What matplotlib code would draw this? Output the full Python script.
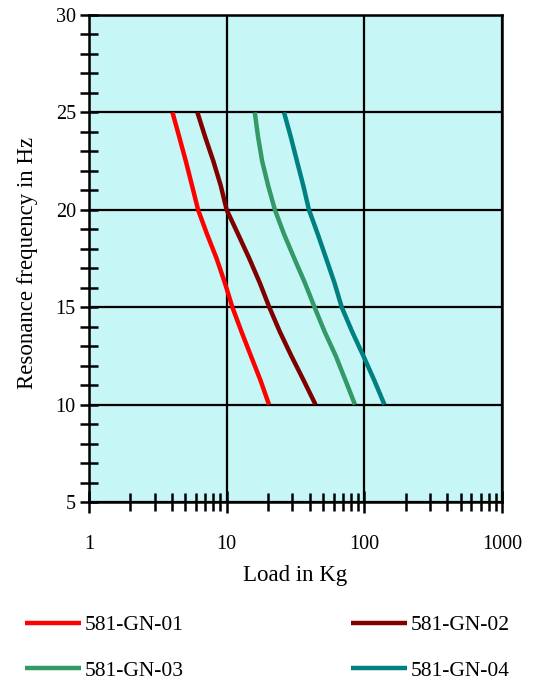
import matplotlib
matplotlib.use("Agg")
import matplotlib.pyplot as plt
from matplotlib.ticker import FixedLocator, NullFormatter

freq = [25, 23.75, 22.5, 21.25, 20, 18.75, 17.5, 16.25, 15, 13.75, 12.5, 11.25, 10]
load_01 = [4.04, 4.52, 5.05, 5.6, 6.2, 7.2, 8.45, 9.7, 11.0, 12.8, 15.0, 17.6, 20.3]
load_02 = [6.13, 6.97, 8.0, 9.05, 10.0, 12.1, 14.6, 17.4, 20.4, 24.3, 29.5, 36.2, 44.2]
load_03 = [16.0, 16.9, 18.1, 20.0, 22.4, 26.1, 31.0, 37.0, 43.5, 51.4, 62.0, 72.9, 85.5]
load_04 = [26.1, 29.2, 32.4, 36.0, 39.6, 45.9, 52.8, 60.7, 68.5, 81.5, 98.4, 118.0, 140.0]
names = ["581-GN-01", "581-GN-02", "581-GN-03", "581-GN-04"]
colors = ["#FF0000", "#800000", "#339966", "#008080"]
x_ticks = [1, 10, 100, 1000]
x_ticklabels = ["1", "10", "100", "1000"]
y_ticks = [5, 10, 15, 20, 25, 30]

plt.rcParams['font.family'] = ['Liberation Serif', 'DejaVu Serif']

fig = plt.figure(figsize=(5.36, 6.84), dpi=100)
ax = fig.add_axes([89/536, 1 - 502/684, (502-89)/536, (502-15)/684])
ax.set_facecolor("#C6F6F6")

lines = []
for loads, name, c in zip([load_01, load_02, load_03, load_04], names, colors):
    ln, = ax.plot(loads, freq, color=c, lw=3.2, label=name, solid_capstyle='butt',
                  solid_joinstyle='round', zorder=3)
    lines.append(ln)

ax.set_xscale('log')
ax.set_xlim(1, 1000)
ax.set_ylim(5, 30)
ax.xaxis.set_major_locator(FixedLocator(x_ticks))
ax.set_xticklabels(x_ticklabels)
ax.xaxis.set_minor_locator(FixedLocator([m * d for d in [1, 10, 100] for m in range(2, 10)]))
ax.xaxis.set_minor_formatter(NullFormatter())
ax.yaxis.set_major_locator(FixedLocator(y_ticks))
ax.yaxis.set_minor_locator(FixedLocator(list(range(5, 31))))

ax.grid(True, which='major', color='black', lw=1.6, zorder=1)
ax.set_axisbelow(True)
for s in ax.spines.values():
    s.set_linewidth(1.8)
    s.set_color('black')

ax.tick_params(axis='both', which='both', direction='inout', width=1.8, color='black')
ax.tick_params(axis='y', which='major', length=13, labelsize=14.5, pad=3)
ax.tick_params(axis='y', which='minor', length=13)
ax.tick_params(axis='x', which='major', length=16, labelsize=14.5, pad=16)
ax.tick_params(axis='x', which='minor', length=13)
ax.tick_params(top=False, right=False, which='both')

ax.set_xlabel("Load in Kg", fontsize=16.5, labelpad=8)
ax.set_ylabel("Resonance frequency in Hz", fontsize=16.5)
ax.yaxis.set_label_coords(-0.124, 0.49)

order = [0, 2, 1, 3]
fig.legend([lines[i] for i in order], [names[i] for i in order], ncol=2,
           loc='center left', bbox_to_anchor=(25/536, 1 - 648/684), frameon=False,
           fontsize=15.5, handlelength=2.6, handletextpad=0.15, borderpad=0,
           borderaxespad=0, columnspacing=7.8, labelspacing=1.2)

fig.savefig("out.png", dpi=100)
